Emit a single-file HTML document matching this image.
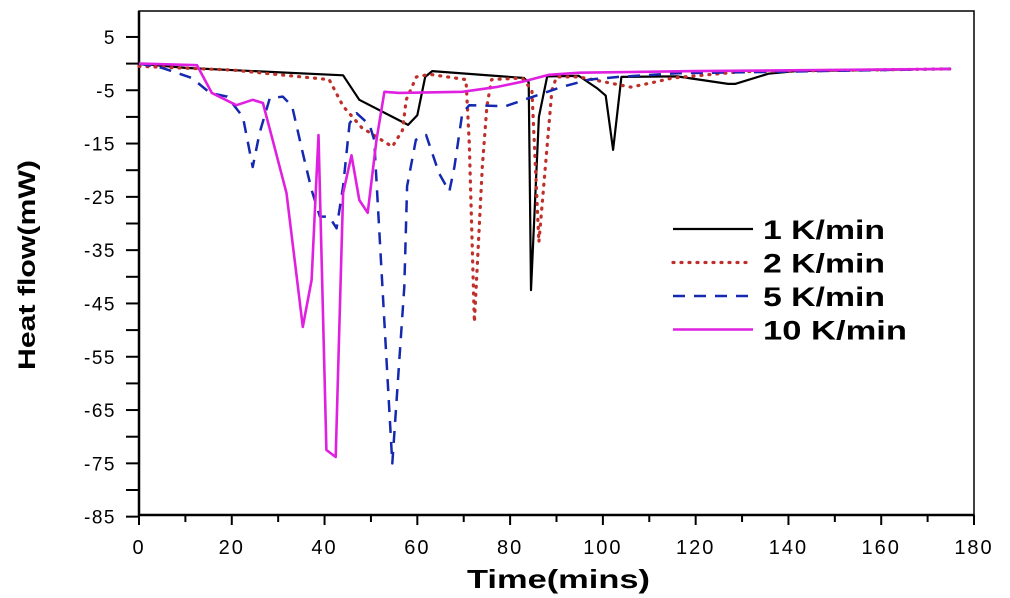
<!DOCTYPE html>
<html><head><meta charset="utf-8"><style>
html,body{margin:0;padding:0;background:#fff;}
svg{display:block;font-family:"Liberation Sans",Arial,sans-serif;}
</style></head><body>
<svg id="chart" width="1010" height="598" viewBox="0 0 1010 598" xmlns="http://www.w3.org/2000/svg">
<g id="axes"></g>
<g id="series"></g>
<g id="legend"></g>
<text x="467" y="588" font-size="26" font-weight="bold" textLength="183" lengthAdjust="spacingAndGlyphs">Time(mins)</text>
<text transform="translate(35,370) rotate(-90)" font-size="24" font-weight="bold" textLength="210" lengthAdjust="spacingAndGlyphs">Heat flow(mW)</text>
</svg>
<script>
const xTicks=[0,20,40,60,80,100,120,140,160,180];
const yTicks=[5,-5,-15,-25,-35,-45,-55,-65,-75,-85];
const seriesNames=["1 K/min","2 K/min","5 K/min","10 K/min"];
const t1=[0,10,44,47.5,58,60,61.7,63.2,83,84,84.5,86.2,88,94.8,98.7,100.6,102.2,104,116,127,128.5,135.7,141.5,175];
const v1=[0,-0.8,-2.2,-6.8,-11.5,-9.7,-2.5,-1.4,-2.7,-3.5,-42.5,-10,-2.4,-2.3,-4.6,-6,-16.2,-2.5,-2.4,-3.8,-3.8,-1.9,-1.4,-1];
const t2=[0,20,41,44,48,54.6,56.8,57.6,59.8,62.6,70.5,71.2,72.3,74,75,76,82.6,84.7,86.2,89,90,94.8,106,110.5,115,130,175];
const v2=[-0.5,-1.2,-3,-8,-12,-15.6,-12.5,-6.8,-2.5,-2,-3,-15,-48.5,-19.4,-8,-3,-2.7,-5,-33.5,-5,-2.5,-2.5,-4.4,-3.6,-2.7,-1.5,-1];
const t3=[0,5,11.4,15.3,19,22.4,24.5,26,28.2,31,33,35.3,37.2,39,41,42.6,44,45.4,46.9,49.7,50.7,54.6,57.2,57.8,59.7,61.9,64.7,66.9,68,69.7,71.2,79,84,91,97,103.4,116,140,175];
const v3=[0,-0.8,-2.7,-5.5,-6.2,-10,-19.4,-13,-6.5,-6.2,-8,-16.8,-23.7,-28.7,-28.7,-30.9,-23,-11.2,-9.3,-11.5,-14.3,-75,-41.9,-23,-14.3,-13.4,-20.6,-24,-19.4,-9.3,-7.8,-8,-6.5,-4.4,-3,-2.5,-1.8,-1.5,-1];
const t4=[0,12.5,15.7,21,24.5,26.7,28.8,31.8,35.3,37.2,38.7,40.4,42.4,44,45.8,47.5,49.3,51.2,52.9,56.1,69.7,77,82.6,88.4,95,120,175];
const v4=[0,-0.3,-5.5,-7.8,-6.8,-7.4,-14.3,-24.3,-49.4,-40.6,-13.4,-72.5,-73.8,-24.3,-17.2,-25.6,-28,-14.3,-5.3,-5.5,-5.3,-4.4,-3.4,-2.1,-1.7,-1.4,-1];

const NS="http://www.w3.org/2000/svg";
const L=139,R=974,T=11,B=515;
const xs=t=>L+(t-0)/(180-0)*(R-L);
const ys=v=>63.6-(v)*5.33;
function mk(tag,attrs,parent){const e=document.createElementNS(NS,tag);for(const k in attrs)e.setAttribute(k,attrs[k]);parent.appendChild(e);return e;}
const axes=document.getElementById('axes');
let frame=mk('rect',{x:L,y:T,width:R-L,height:B-T,fill:'none',stroke:'#000','stroke-width':1.5},axes);


let la=mk('line',{x1:L,y1:T,x2:L,y2:B+1,stroke:'#000','stroke-width':2.5},axes);


let ba=mk('line',{x1:L-1,y1:B,x2:R,y2:B,stroke:'#000','stroke-width':2.5},axes);


xTicks.forEach((t,i)=>{
  const x=xs(t);
  const tk=mk('line',{x1:x,y1:B,x2:x,y2:B+10,stroke:'#000','stroke-width':2},axes);
  
  
  if(i<xTicks.length-1){const m=mk('line',{x1:xs(t+10),y1:B,x2:xs(t+10),y2:B+7,stroke:'#000','stroke-width':2},axes);
  
  }
  const lb=mk('text',{x:x,y:554,'font-size':20,'letter-spacing':2,'text-anchor':'middle'},axes);
  lb.textContent=t;
  
  
});
yTicks.forEach((v,i)=>{
  const y=ys(v);
  const tk=mk('line',{x1:L-13,y1:y,x2:L,y2:y,stroke:'#000','stroke-width':2},axes);
  
  
  if(i<yTicks.length-1){const m=mk('line',{x1:L-13,y1:ys(v-5),x2:L,y2:ys(v-5),stroke:'#000','stroke-width':2},axes);
  
  }
  const lb=mk('text',{x:116,y:y+7,'font-size':19,'letter-spacing':1.5,'text-anchor':'end'},axes);
  lb.textContent=v;
  
  
});
const styles=[
 {stroke:'#000',dash:'',w:2.2},
 {stroke:'#c0302a',dash:'1 7',w:3.2,cap:'round'},
 {stroke:'#1428b0',dash:'12 9',w:2.5},
 {stroke:'#e020e0',dash:'',w:2.6}];
const data=[[t1,v1],[t2,v2],[t3,v3],[t4,v4]];
const sg=document.getElementById('series');
data.forEach((d,i)=>{
  const pts=d[0].map((t,j)=>xs(t).toFixed(1)+','+ys(d[1][j]).toFixed(1)).join(' ');
  const s=styles[i];
  const p=mk('polyline',{points:pts,fill:'none',stroke:s.stroke,'stroke-width':s.w,'stroke-dasharray':s.dash,'stroke-linecap':s.cap||'butt','stroke-linejoin':'round'},sg);
  
  
});
const lg=document.getElementById('legend');
const lens=[122,122,122,144];
seriesNames.forEach((n,i)=>{
  const y=229+i*33.5,s=styles[i];
  const g=mk('g',{},lg);
  
  
  mk('line',{x1:673,y1:y,x2:753,y2:y,stroke:s.stroke,'stroke-width':s.w,'stroke-dasharray':s.dash,'stroke-linecap':s.cap||'butt'},g);
  const tx=mk('text',{x:763,y:y+10,'font-size':27,'font-weight':'bold',textLength:lens[i],lengthAdjust:'spacingAndGlyphs'},g);
  tx.textContent=n;
});
</script>
</body></html>
